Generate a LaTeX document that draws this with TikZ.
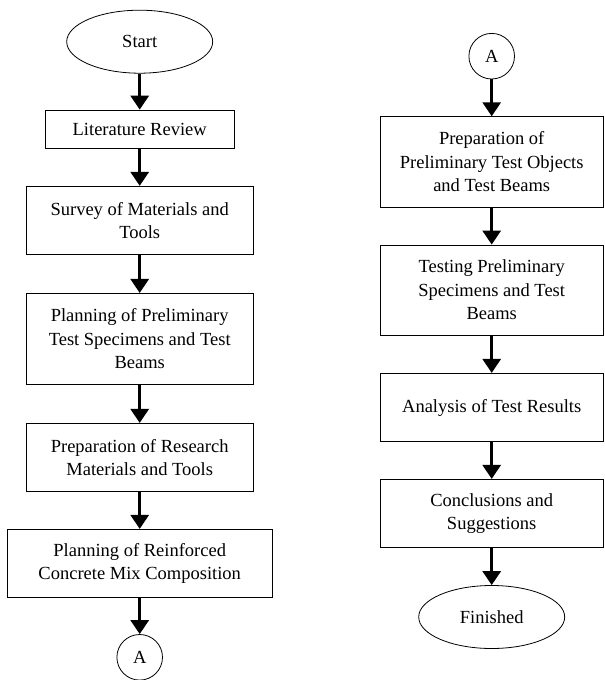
\documentclass[tikz,border=0pt]{standalone}
\usepackage{fontspec}
\setmainfont{Liberation Serif}
\usetikzlibrary{shapes.geometric,arrows.meta}
\begin{document}
\begin{tikzpicture}[x=1pt,y=-1pt,
  txt/.style={font=\fontsize{18.5}{23.5}\selectfont, align=center, inner sep=0pt},
  box/.style={txt, draw, line width=0.8pt, rectangle},
  term/.style={txt, draw, line width=0.8pt, ellipse, minimum width=146pt, minimum height=63pt},
  conn/.style={txt, draw, line width=0.8pt, circle, minimum size=45.6pt},
  arr/.style={line width=3pt, -{Triangle[length=14pt,width=18pt]}}
]
\useasboundingbox (0,0) rectangle (605,680);
% left column
\node[term] (start) at (139.7,41.7) {Start};
\node[box, minimum width=189pt, minimum height=38.3pt] (lit) at (139.7,129.2) {Literature Review};
\node[box, minimum width=227.3pt, minimum height=68.5pt] (survey) at (139.7,220.5) {Survey of Materials and\\Tools};
\node[box, minimum width=227.3pt, minimum height=90.7pt] (plan1) at (139.7,338.7) {Planning of Preliminary\\Test Specimens and Test\\Beams};
\node[box, minimum width=227.3pt, minimum height=68.4pt] (prep1) at (139.7,457.5) {Preparation of Research\\Materials and Tools};
\node[box, minimum width=264.4pt, minimum height=68.4pt] (plan2) at (139.7,563.5) {Planning of Reinforced\\Concrete Mix Composition};
\node[conn] (a1) at (139.7,657.3) {A};
% right column
\node[conn] (a2) at (491.7,56.2) {A};
\node[box, minimum width=223pt, minimum height=90.6pt] (prep2) at (491.7,162) {Preparation of\\Preliminary Test Objects\\and Test Beams};
\node[box, minimum width=223pt, minimum height=90pt] (test) at (491.7,290) {Testing Preliminary\\Specimens and Test\\Beams};
\node[box, minimum width=223pt, minimum height=68.4pt] (anal) at (491.7,407.5) {Analysis of Test Results};
\node[box, minimum width=223pt, minimum height=68.4pt] (concl) at (491.7,513.5) {Conclusions and\\Suggestions};
\node[term] (fin) at (491.7,617) {Finished};
% connectors
\draw[arr] (start) -- (lit);
\draw[arr] (lit) -- (survey);
\draw[arr] (survey) -- (plan1);
\draw[arr] (plan1) -- (prep1);
\draw[arr] (prep1) -- (plan2);
\draw[arr] (plan2) -- (a1);
\draw[arr] (a2) -- (prep2);
\draw[arr] (prep2) -- (test);
\draw[arr] (test) -- (anal);
\draw[arr] (anal) -- (concl);
\draw[arr] (concl) -- (fin);
\end{tikzpicture}
\end{document}
